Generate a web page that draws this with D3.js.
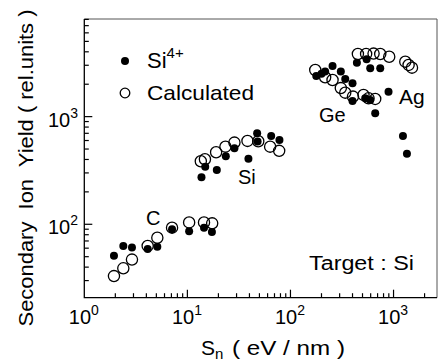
<!DOCTYPE html>
<html>
<head>
<meta charset="utf-8">
<script src="https://cdn.jsdelivr.net/npm/d3@7"></script>
<style>
  body { margin: 0; background: #fff; }
  svg text { font-family: "Liberation Sans", Arial, Helvetica, sans-serif; fill: #000; }
</style>
</head>
<body>
<svg id="chart" width="442" height="362"></svg>
<script>
// Si4+ measured yields (filled dots) : [Sn, yield]
let measuredX = [1.94, 2.39, 2.9, 4.12, 5.11, 7.1, 10.4, 14.5, 17.3,
                 13.7, 14.9, 19.3, 23.6, 28.6, 39.1, 47.5, 48, 65, 78.2,
                 178, 200, 217, 256, 308, 340, 400, 400, 531, 594, 664,
                 441, 548, 594, 743, 894, 1234, 1349];
let measuredY = [51, 63, 61, 59, 62, 90, 86, 93, 85,
                 274, 343, 320, 429, 509, 407, 701, 586, 662, 608,
                 2390, 2500, 2620, 2960, 2620, 2240, 2040, 1400, 1480, 1430, 1075,
                 3170, 3410, 2810, 2810, 1706, 662, 451];

// calculated yields (open circles)
let calcX = [1.94, 2.39, 2.9, 4.12, 5.11, 7.1, 10.4, 14.5, 17.4,
             13.5, 14.8, 19, 23.4, 28.6, 38.3, 48.7, 63.5, 77.7,
             174, 217, 256, 308, 340, 404, 511, 572, 664,
             451, 542, 640, 743, 908, 1300, 1400, 1510];
let calcY = [33, 39, 47, 63, 75, 93, 104, 104, 102,
             385, 402, 467, 526, 574, 595, 591, 526, 481,
             2710, 2320, 2190, 1840, 1670, 1535, 1590, 1480, 1460,
             3820, 3820, 3850, 3820, 3600, 3240, 3020, 2850];

let xMajor = [1, 10, 100, 1000];
let xMajorExp = ["0", "1", "2", "3"];
let yMajor = [100, 1000];
let yMajorExp = ["2", "3"];

let svg = d3.select("#chart");
let pLeft = 84.3, pRight = 437, pTop = 19, pBottom = 297.7;

let x = d3.scaleLog().domain([1, 2640]).range([pLeft, pRight]);
let y = d3.scaleLog().domain([20.8, 8070]).range([pBottom, pTop]);

// frame: top/right a bit lighter like the scan
svg.append("path")
  .attr("d", `M${pLeft},${pTop}H${pRight}V${pBottom}`)
  .attr("fill", "none").attr("stroke", "#555").attr("stroke-width", 1);
svg.append("path")
  .attr("d", `M${pLeft},${pTop}V${pBottom}H${pRight}`)
  .attr("fill", "none").attr("stroke", "#000").attr("stroke-width", 1.3);

// minor / major ticks (inward)
let xTicks = x.ticks().filter(d => d > 1 && d < 2640);
svg.append("g").selectAll("line").data(xTicks).join("line")
  .attr("x1", d => x(d)).attr("x2", d => x(d))
  .attr("y1", pBottom)
  .attr("y2", d => pBottom - (xMajor.includes(d) ? 8 : 4.5))
  .attr("stroke", "#000").attr("stroke-width", 1.2);

let yTicks = y.ticks().filter(d => d > 20.8 && d < 8070);
svg.append("g").selectAll("line").data(yTicks).join("line")
  .attr("x1", pLeft)
  .attr("x2", d => pLeft + (yMajor.includes(d) ? 8 : 4.5))
  .attr("y1", d => y(d)).attr("y2", d => y(d))
  .attr("stroke", "#000").attr("stroke-width", 1.2);

// tick labels
let xl = svg.append("g").selectAll("text").data(xMajor).join("text")
  .attr("x", d => x(d) - 15.5).attr("y", 324)
  .attr("font-size", 20);
xl.append("tspan").text("10");
xl.append("tspan").attr("dy", -9).attr("font-size", 14).text((d, i) => xMajorExp[i]);

let yl = svg.append("g").selectAll("text").data(yMajor).join("text")
  .attr("x", 48).attr("y", d => y(d) + 10)
  .attr("font-size", 20);
yl.append("tspan").text("10");
yl.append("tspan").attr("dy", -9).attr("font-size", 14).text((d, i) => yMajorExp[i]);

// axis titles
let xt = svg.append("text").attr("x", 201).attr("y", 355).attr("font-size", 21);
xt.append("tspan").text("S");
xt.append("tspan").attr("dy", 4).attr("font-size", 15).text("n");
svg.append("text").attr("x", 232).attr("y", 355).attr("font-size", 21)
  .attr("textLength", 113).attr("lengthAdjust", "spacingAndGlyphs")
  .attr("xml:space", "preserve").text("( eV / nm )");

svg.append("text")
  .attr("transform", "translate(33,168) rotate(-90)")
  .attr("text-anchor", "middle")
  .attr("font-size", 21)
  .attr("textLength", 317).attr("lengthAdjust", "spacingAndGlyphs")
  .attr("xml:space", "preserve")
  .text("Secondary  Ion  Yield ( rel.units )");

// points
svg.append("g").selectAll("circle").data(calcX).join("circle")
  .attr("cx", d => x(d)).attr("cy", (d, i) => y(calcY[i]))
  .attr("r", 5.6).attr("fill", "none")
  .attr("stroke", "#000").attr("stroke-width", 1.3);

svg.append("g").selectAll("circle").data(measuredX).join("circle")
  .attr("cx", d => x(d)).attr("cy", (d, i) => y(measuredY[i]))
  .attr("r", 4).attr("fill", "#000");

// legend
svg.append("circle").attr("cx", 125).attr("cy", 61).attr("r", 4).attr("fill", "#000");
svg.append("circle").attr("cx", 125).attr("cy", 93).attr("r", 4.8)
  .attr("fill", "none").attr("stroke", "#000").attr("stroke-width", 1.3);
let lg = svg.append("text").attr("x", 147).attr("y", 68).attr("font-size", 22);
lg.append("tspan").text("Si");
lg.append("tspan").attr("dy", -10).attr("font-size", 15).text("4+");
svg.append("text").attr("x", 147).attr("y", 100).attr("font-size", 21)
  .attr("textLength", 107).attr("lengthAdjust", "spacingAndGlyphs").text("Calculated");

// group annotations
svg.append("text").attr("x", 146).attr("y", 225).attr("font-size", 20).text("C");
svg.append("text").attr("x", 238).attr("y", 184).attr("font-size", 20).text("Si");
svg.append("text").attr("x", 319).attr("y", 122).attr("font-size", 20).text("Ge");
svg.append("text").attr("x", 399).attr("y", 104).attr("font-size", 21).text("Ag");
svg.append("text").attr("x", 309).attr("y", 270).attr("font-size", 20)
  .attr("textLength", 105).attr("lengthAdjust", "spacingAndGlyphs").text("Target : Si");
</script>
</body>
</html>
